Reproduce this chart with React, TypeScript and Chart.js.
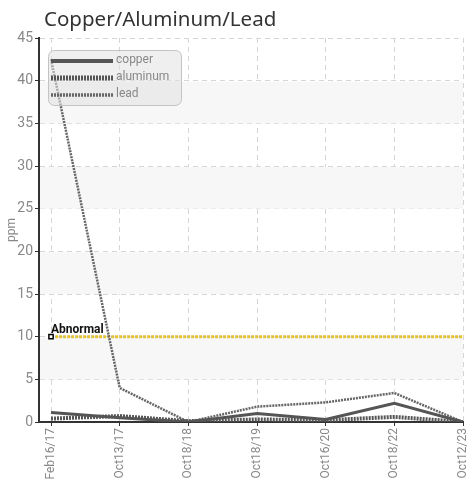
import React, { useEffect, useRef } from "react";
import { Chart, registerables } from "chart.js";

Chart.register(...registerables);

const categories = ["Feb16/17", "Oct13/17", "Oct18/18", "Oct18/19", "Oct16/20", "Oct18/22", "Oct12/23"];
const copper = [1.1, 0.5, 0, 1.0, 0.3, 2.2, 0];
const aluminum = [0.4, 0.7, 0.1, 0.3, 0.2, 0.6, 0];
const lead = [42.5, 4.0, 0, 1.8, 2.3, 3.4, 0];
const abnormalLevel = 10;
const abnormalLabel = "Abnormal";
const title = "Copper/Aluminum/Lead";
const yTicks = [0, 5, 10, 15, 20, 25, 30, 35, 40, 45];

const NARROW = "Roboto, 'Liberation Sans', sans-serif";

const seriesStyles = [
  { name: "copper", data: copper, color: "#555", width: 3, dash: [] as number[] },
  { name: "aluminum", data: aluminum, color: "#555", width: 4, dash: [2, 1] },
  { name: "lead", data: lead, color: "#666", width: 2.5, dash: [2, 1] },
];

const extras = {
  id: "extras",
  beforeDatasetsDraw(chart: any) {
    const { ctx, chartArea } = chart;
    const y = chart.scales.y;
    ctx.save();
    ctx.fillStyle = "#f7f7f7";
    for (let v = 5; v < 45; v += 10) {
      const top = y.getPixelForValue(v + 5);
      const bot = y.getPixelForValue(v);
      ctx.fillRect(chartArea.left + 1, top + 1, chartArea.right - chartArea.left - 1, bot - top - 1);
    }
    ctx.restore();
  },
  afterDraw(chart: any) {
    const { ctx } = chart;
    const x = chart.scales.x;
    const y = chart.scales.y;
    ctx.save();
    // title
    ctx.fillStyle = "#333";
    ctx.font = "20.5px 'Noto Sans', sans-serif";
    ctx.textBaseline = "alphabetic";
    ctx.textAlign = "left";
    ctx.fillText(title, 44, 26);

    // abnormal label
    ctx.fillStyle = "#111";
    ctx.font = "bold 12px " + NARROW;
    ctx.fillText(abnormalLabel, x.getPixelForValue(0), y.getPixelForValue(abnormalLevel) - 4);

    // legend
    const lx = 48, ly = 50, lw = 133, lh = 55;
    ctx.beginPath();
    (ctx as any).roundRect(lx + 0.5, ly + 0.5, lw, lh, 6);
    ctx.fillStyle = "rgba(225,225,225,0.55)";
    ctx.fill();
    ctx.strokeStyle = "rgba(190,190,190,0.9)";
    ctx.lineWidth = 1;
    ctx.stroke();
    seriesStyles.forEach((s, i) => {
      const yy = 61 + i * 17;
      ctx.beginPath();
      ctx.setLineDash(s.dash);
      ctx.lineWidth = s.width + 1;
      ctx.strokeStyle = s.color;
      ctx.moveTo(51, yy);
      ctx.lineTo(113, yy);
      ctx.stroke();
      ctx.setLineDash([]);
      ctx.fillStyle = "#888";
      ctx.font = "12px " + NARROW;
      ctx.textBaseline = "middle";
      ctx.fillText(s.name, 116, yy - 1);
    });
    ctx.restore();
  },
};

export default function App() {
  const ref = useRef<HTMLCanvasElement>(null);
  useEffect(() => {
    if (!ref.current) return;
    const datasets: any[] = seriesStyles.map((s) => ({
      label: s.name,
      data: s.data.map((v, i) => ({ x: i, y: v })),
      borderColor: s.color,
      borderWidth: s.width,
      borderDash: s.dash,
      pointRadius: 0,
      fill: false,
      tension: 0,
    }));
    datasets.push({
      label: abnormalLabel,
      data: categories.map((_, i) => ({ x: i, y: abnormalLevel })),
      borderColor: "#f5c400",
      borderWidth: 3,
      borderDash: [3, 1],
      pointRadius: categories.map((_, i) => (i === 0 ? 3 : 0)),
      pointStyle: "rect",
      pointBackgroundColor: "#fff",
      pointBorderColor: "#000",
      pointBorderWidth: 1.5,
      fill: false,
    });
    const chart = new Chart(ref.current, {
      type: "line",
      data: { datasets },
      plugins: [extras],
      options: {
        animation: false,
        responsive: false,
        layout: { padding: { top: 38, right: 6, left: 0, bottom: 0 } },
        plugins: { legend: { display: false }, tooltip: { enabled: false }, title: { display: false } },
        scales: {
          x: {
            type: "linear",
            min: -0.175,
            max: categories.length - 1,
            afterBuildTicks: (scale: any) => {
              scale.ticks = categories.map((_, i) => ({ value: i }));
            },
            afterFit: (scale: any) => {
              scale.height = 58;
              scale.paddingRight = 0;
              scale.paddingLeft = 0;
            },
            ticks: {
              autoSkip: false,
              maxRotation: 90,
              minRotation: 90,
              padding: 2,
              color: "#888",
              font: { family: NARROW, size: 12 },
              callback: (v: any) => categories[v as number] ?? "",
            },
            grid: {
              color: "#d6d6d6",
              tickColor: "#333",
              tickBorderDash: [],
              tickLength: 4,
            },
            border: { color: "#333", width: 2, dash: [5, 4] },
          },
          y: {
            min: 0,
            max: 45,
            afterBuildTicks: (scale: any) => {
              scale.ticks = yTicks.map((v) => ({ value: v }));
            },
            afterFit: (scale: any) => {
              scale.width = 39;
              scale.paddingTop = 0;
              scale.paddingBottom = 0;
            },
            title: { display: true, text: "ppm", color: "#888", font: { family: NARROW, size: 12 }, padding: { top: 5, bottom: 0 } },
            ticks: { color: "#888", font: { family: NARROW, size: 14 }, padding: 2 },
            grid: {
              color: "#d6d6d6",
              tickColor: "#333",
              tickBorderDash: [],
              tickLength: 4,
            },
            border: { color: "#333", width: 2, dash: [5, 4] },
          },
        },
      } as any,
    });
    return () => chart.destroy();
  }, []);
  return (
    <div style={{ position: "fixed", left: 0, top: 0, width: 469, height: 480, background: "#fff" }}>
      <canvas ref={ref} width={469} height={480} style={{ width: 469, height: 480, display: "block" }} />
    </div>
  );
}
